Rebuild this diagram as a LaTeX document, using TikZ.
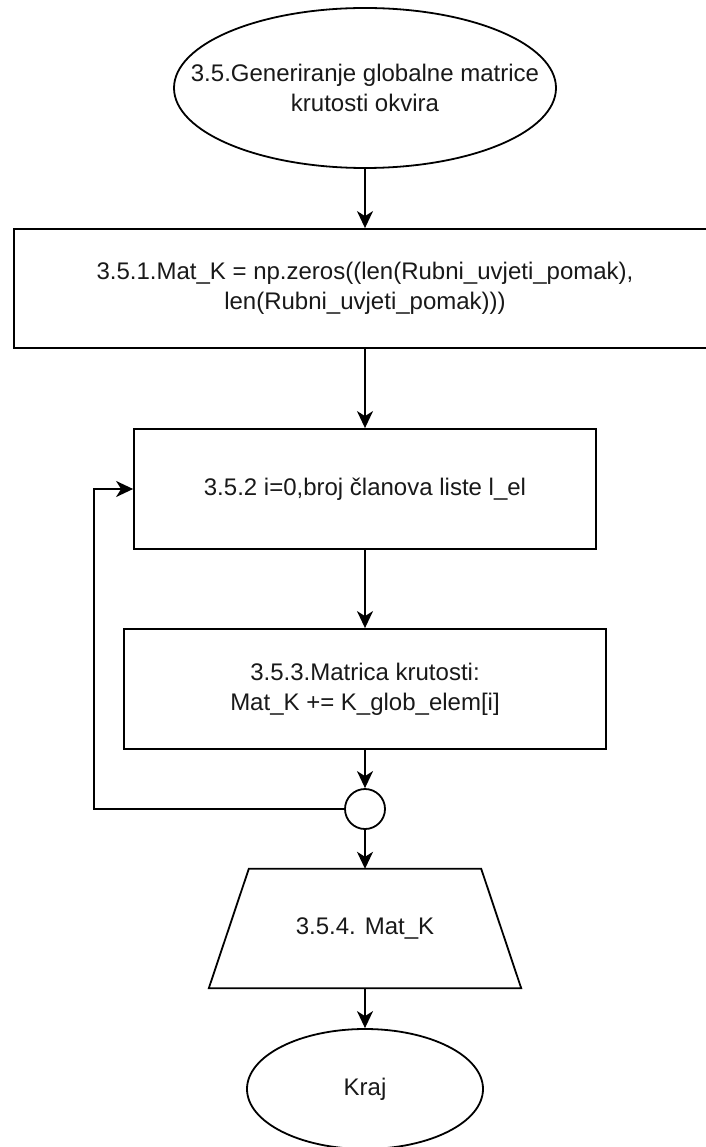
\documentclass[tikz,border=0pt]{standalone}
\usepackage{fontspec}
\setmainfont{Liberation Sans}
\usetikzlibrary{shapes.geometric,arrows.meta}
\begin{document}
\begin{tikzpicture}[x=1pt,y=-1pt,
  every node/.style={font=\fontsize{24}{30}\selectfont, align=center, inner sep=0pt, text=black!90},
  shp/.style={draw=black, line width=1.8pt},
  boxs/.style={shp, rectangle},
  ell/.style={shp, ellipse},
  arr/.style={draw=black, line width=1.8pt, -{Stealth[length=17pt,width=16pt,inset=5pt]}},
  lin/.style={draw=black, line width=1.8pt}]
\useasboundingbox (0,0) rectangle (705,1147);
\fill[white] (0,0) rectangle (705,1147);
\node[ell, minimum width=382pt, minimum height=160pt, label={center:3.5.Generiranje globalne matrice\\krutosti okvira}] (s) at (365,88) {};
\node[boxs, minimum width=702pt, minimum height=119pt] (b1) at (365,288.5) {3.5.1.Mat\_K = np.zeros((len(Rubni\_uvjeti\_pomak),\\len(Rubni\_uvjeti\_pomak)))};
\node[boxs, minimum width=462pt, minimum height=120pt] (b2) at (365,489) {3.5.2 i=0,broj članova liste l\_el};
\node[boxs, minimum width=482pt, minimum height=120pt] (b3) at (365,689) {3.5.3.Matrica krutosti:\\Mat\_K += K\_glob\_elem[i]};
\node[shp, circle, minimum size=40pt] (c) at (365,809) {};
\node[minimum width=232pt, minimum height=119pt] (t) at (365,928.5) {3.5.4. Mat\_K};
\draw[lin] (t.north west) -- (t.north east) -- ([xshift=40pt]t.south east) -- ([xshift=-40pt]t.south west) -- cycle;
\node[ell, minimum width=236pt, minimum height=120pt, label={center:Kraj}] (e) at (365,1089) {};
\coordinate (lp) at (94,489);
\draw[arr] (s.south) -- (b1.north);
\draw[arr] (b1.south) -- (b2.north);
\draw[arr] (b2.south) -- (b3.north);
\draw[arr] (b3.south) -- (c.north);
\draw[arr] (c.south) -- (t.north);
\draw[arr] (t.south) -- (e.north);
\draw[arr] (c.west) -| (lp) -- (b2.west);
\end{tikzpicture}
\end{document}
